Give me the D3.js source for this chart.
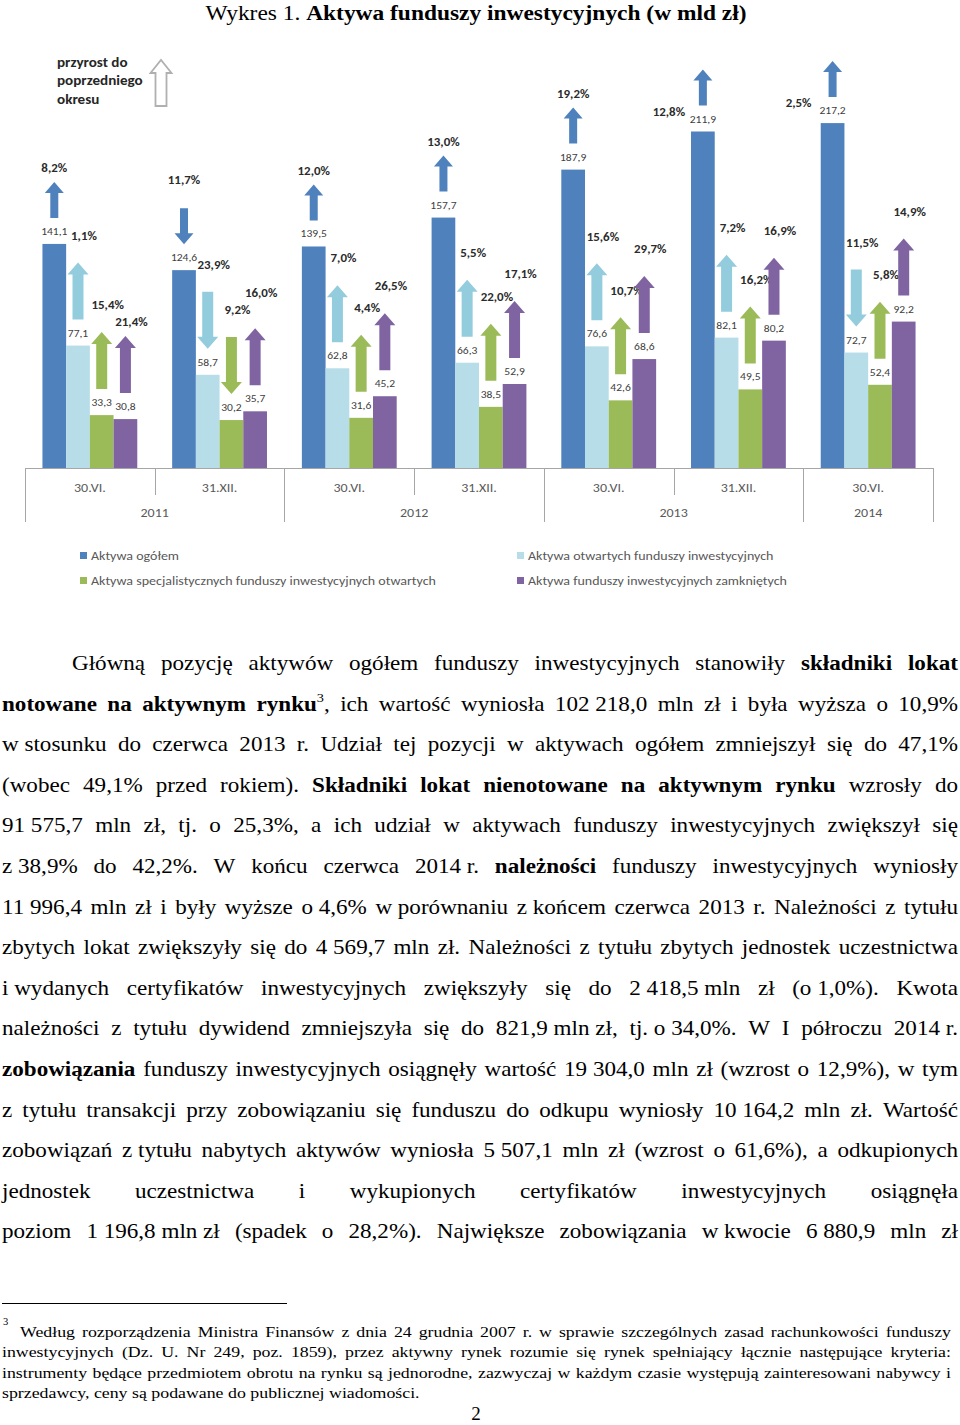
<!DOCTYPE html>
<html><head><meta charset="utf-8">
<script src="https://cdn.jsdelivr.net/npm/d3@7"></script>
<style>body{margin:0;background:#fff}svg{display:block}</style>
</head><body>
<script>
// ---------- DATA ----------
const categories = ["30.VI.","31.XII.","30.VI.","31.XII.","30.VI.","31.XII.","30.VI."];
const years = ["2011","2012","2013","2014"];
const yearSpans = [2,2,2,1];
const seriesNames = ["Aktywa ogółem","Aktywa otwartych funduszy inwestycyjnych","Aktywa specjalistycznych funduszy inwestycyjnych otwartych","Aktywa funduszy inwestycyjnych zamkniętych"];
const aktywaOgolem   = [141.1,124.6,139.5,157.7,187.9,211.9,217.2];
const aktywaOtwarte  = [77.1,58.7,62.8,66.3,76.6,82.1,72.7];
const aktywaSfio     = [33.3,30.2,31.6,38.5,42.6,49.5,52.4];
const aktywaFiz      = [30.8,35.7,45.2,52.9,68.6,80.2,92.2];
const zmianaOgolem   = [8.2,-11.7,12.0,13.0,19.2,12.8,2.5];
const zmianaOtwarte  = [1.1,-23.9,7.0,5.5,15.6,7.2,-11.5];
const zmianaSfio     = [15.4,-9.2,4.4,22.0,10.7,16.2,5.8];
const zmianaFiz      = [21.4,16.0,26.5,17.1,29.7,16.9,14.9];

const seriesValues = [aktywaOgolem, aktywaOtwarte, aktywaSfio, aktywaFiz];
const seriesChanges = [zmianaOgolem, zmianaOtwarte, zmianaSfio, zmianaFiz];
const barColors = ["#4f81bd","#b7dde8","#9bbb59","#8064a2"];
const arrowColors = ["#4f81bd","#93cddd","#9bbb59","#8064a2"];

const titleRegular = "Wykres 1. ";
const titleBold = "Aktywa funduszy inwestycyjnych (w mld zł)";
const keyLines = ["przyrost do","poprzedniego","okresu"];

const bodyLines = [
 "Główną pozycję aktywów ogółem funduszy inwestycyjnych stanowiły **składniki lokat**",
 "**notowane na aktywnym rynku**^3^, ich wartość wyniosła 102~218,0 mln zł i była wyższa o 10,9%",
 "w~stosunku do czerwca 2013 r. Udział tej pozycji w aktywach ogółem zmniejszył się do 47,1%",
 "(wobec 49,1% przed rokiem). **Składniki lokat nienotowane na aktywnym rynku** wzrosły do",
 "91~575,7 mln zł, tj. o 25,3%, a ich udział w aktywach funduszy inwestycyjnych zwiększył się",
 "z~38,9% do 42,2%. W końcu czerwca 2014~r. **należności** funduszy inwestycyjnych wyniosły",
 "11~996,4 mln zł i były wyższe o~4,6% w~porównaniu z~końcem czerwca 2013 r. Należności z tytułu",
 "zbytych lokat zwiększyły się do 4~569,7 mln zł. Należności z tytułu zbytych jednostek uczestnictwa",
 "i~wydanych certyfikatów inwestycyjnych zwiększyły się do 2~418,5~mln zł (o~1,0%). Kwota",
 "należności z tytułu dywidend zmniejszyła się do 821,9~mln~zł, tj.~o~34,0%. W I półroczu 2014~r.",
 "**zobowiązania** funduszy inwestycyjnych osiągnęły wartość 19~304,0 mln zł (wzrost o 12,9%), w tym",
 "z tytułu transakcji przy zobowiązaniu się funduszu do odkupu wyniosły 10~164,2 mln zł. Wartość",
 "zobowiązań z~tytułu nabytych aktywów wyniosła 5~507,1 mln zł (wzrost o 61,6%), a odkupionych",
 "jednostek uczestnictwa i wykupionych certyfikatów inwestycyjnych osiągnęła",
 "poziom 1~196,8~mln~zł (spadek o 28,2%). Największe zobowiązania w~kwocie 6~880,9 mln zł"
];
const footnoteMark = "3";
const footnoteLines = [
 "Według rozporządzenia Ministra Finansów z dnia 24 grudnia 2007 r. w sprawie szczególnych zasad rachunkowości funduszy",
 "inwestycyjnych (Dz. U. Nr 249, poz. 1859), przez aktywny rynek rozumie się rynek spełniający łącznie następujące kryteria:",
 "instrumenty będące przedmiotem obrotu na rynku są jednorodne, zazwyczaj w każdym czasie występują zainteresowani nabywcy i",
 "sprzedawcy, ceny są podawane do publicznej wiadomości."
];
const pageNumber = "2";

// ---------- SETUP ----------
const svg = d3.select("body").append("svg").attr("width",960).attr("height",1425);
const sans = "Carlito, Lato, 'Open Sans', sans-serif";
const serif = "'Liberation Serif', 'Times New Roman', serif";
const fmt = v => v.toFixed(1).replace(".", ",");

// text helper with horizontal stretch
function sText(g, x, yy, str, o){
  const t = g.append("text").attr("transform",`translate(${x},${yy}) scale(${o.sx||1},1)`)
    .attr("font-family",o.family||sans).attr("font-size",o.size||11).attr("fill",o.fill||"#000");
  if(o.anchor) t.attr("text-anchor",o.anchor);
  if(o.weight) t.attr("font-weight",o.weight);
  if(o.dy) t.attr("dy",o.dy);
  if(str!==null) t.text(str);
  return t;
}

// title
const title = sText(svg, 476, 20, null, {family:serif,size:21.5,sx:1.09,anchor:"middle"});
title.append("tspan").text(titleRegular);
title.append("tspan").attr("font-weight","bold").text(titleBold);

// scales
const x0 = d3.scaleBand().domain(d3.range(categories.length)).range([25,933]).paddingInner(0.269).paddingOuter(0.1345);
const x1 = d3.scaleBand().domain(d3.range(seriesValues.length)).range([0,x0.bandwidth()]);
const y = d3.scaleLinear().domain([0,250]).range([468,71]);
const step = x0.step();
const axisStart = x0.range()[0];

const chart = svg.append("g");

// bars
seriesValues.forEach((vals,s)=>{
  chart.append("g").selectAll("rect").data(vals).join("rect")
    .attr("x",(d,i)=>x0(i)+x1(s)).attr("width",x1.bandwidth())
    .attr("y",d=>y(d)).attr("height",d=>y(0)-y(d)).attr("fill",barColors[s]);
});

// value labels
seriesValues.forEach((vals,s)=>{
  vals.forEach((d,i)=>{
    sText(chart, x0(i)+x1(s)+x1.bandwidth()/2, y(d)-9, fmt(d), {size:11,sx:1.05,anchor:"middle",fill:"#404040"});
  });
});

// arrows
function arrowPath(xc, yTop, yBot, up, shaftW, headW, headH){
  const p = d3.path();
  if(up){
    p.moveTo(xc-shaftW/2,yBot); p.lineTo(xc-shaftW/2,yTop+headH); p.lineTo(xc-headW/2,yTop+headH);
    p.lineTo(xc,yTop); p.lineTo(xc+headW/2,yTop+headH); p.lineTo(xc+shaftW/2,yTop+headH);
    p.lineTo(xc+shaftW/2,yBot); p.closePath();
  } else {
    p.moveTo(xc-shaftW/2,yTop); p.lineTo(xc-shaftW/2,yBot-headH); p.lineTo(xc-headW/2,yBot-headH);
    p.lineTo(xc,yBot); p.lineTo(xc+headW/2,yBot-headH); p.lineTo(xc+shaftW/2,yBot-headH);
    p.lineTo(xc+shaftW/2,yTop); p.closePath();
  }
  return p.toString();
}
const gap = 26;
const pctW = 32, pctH = 14;
const labelCeiling = 62; // labels above this go beside the arrow
categories.forEach((cat,i)=>{
  const placed = [];
  seriesChanges.forEach((chg,s)=>{
    const c = chg[i];
    const len = s===0 ? 36 : 57;
    const shaftW = s===0 ? 8 : 11, headW = s===0 ? 19 : 21, headH = s===0 ? 11 : 12;
    const xc = x0(i)+x1(s)+x1.bandwidth()/2;
    const yBot = y(seriesValues[s][i]) - gap;
    const yTop = yBot - len;
    chart.append("path").attr("d",arrowPath(xc,yTop,yBot,c>=0,shaftW,headW,headH)).attr("fill",arrowColors[s]);
    let lx, ly;
    if(s===0){
      lx = xc; ly = c>=0 ? yTop-14 : yTop-28;
      if(ly < labelCeiling){ lx = xc-34; ly = yBot+6; }
    } else {
      lx = xc+6; ly = yTop-27;
      const prev = placed[placed.length-1];
      if(prev && Math.abs(prev.x-lx)<pctW && Math.abs(prev.y-ly)<pctH+2){
        if(ly>prev.y && prev.y+pctH+3 <= yTop-8) ly = prev.y+pctH+3;
        else ly = prev.y-pctH-3;
      }
    }
    placed.push({x:lx,y:ly});
    sText(chart, lx, ly, fmt(Math.abs(c))+"%", {size:12,sx:1.08,anchor:"middle",weight:"bold",fill:"#2b2b2b",dy:"0.35em"});
  });
});

// category axis
const axisColor = "#a6a6a6";
chart.append("line").attr("x1",axisStart).attr("x2",axisStart+step*categories.length)
  .attr("y1",y(0)+0.5).attr("y2",y(0)+0.5).attr("stroke",axisColor);
const yearBounds = [0]; yearSpans.forEach(n=>yearBounds.push(yearBounds[yearBounds.length-1]+n));
d3.range(categories.length+1).forEach(i=>{
  const long = yearBounds.includes(i);
  const xx = Math.round(axisStart+i*step)+0.5;
  chart.append("line").attr("x1",xx).attr("x2",xx).attr("y1",y(0)).attr("y2",y(0)+(long?54:27)).attr("stroke",axisColor);
});
categories.forEach((d,i)=>{
  sText(chart, axisStart+(i+0.5)*step, 492, d, {size:12.5,sx:1.12,anchor:"middle",fill:"#595959"});
});
years.forEach((d,i)=>{
  sText(chart, axisStart+((yearBounds[i]+yearBounds[i+1])/2)*step, 517, d, {size:12.5,sx:1.12,anchor:"middle",fill:"#595959"});
});

// legend
const legendPos = [[80,556],[517,556],[80,581],[517,581]];
seriesNames.forEach((n,s)=>{
  const [lx,ly] = legendPos[s];
  chart.append("rect").attr("x",lx).attr("y",ly-4).attr("width",7).attr("height",7).attr("fill",barColors[s]);
  sText(chart, lx+11, ly, n, {size:12.5,sx:1.12,fill:"#595959",dy:"0.35em"});
});

// "przyrost" key
keyLines.forEach((t,i)=>{
  sText(chart, 57, 62+i*18.5, t, {size:13.5,sx:1.12,weight:"bold",fill:"#262626",dy:"0.35em"});
});
chart.append("path").attr("d",arrowPath(161,60,106,true,11,21,13)).attr("fill","#fff")
  .attr("stroke","#b0b0b0").attr("stroke-width",1.8);

// ---------- TEXT ----------
function parseWords(str){
  let bold=false, sup=false; const words=[]; let cur=[]; let buf='';
  const flush=()=>{ if(buf){cur.push({t:buf.replace(/~/g,"\u00a0"),b:bold,s:sup}); buf='';} };
  for(let i=0;i<str.length;i++){
    const c=str[i];
    if(c==='*'&&str[i+1]==='*'){flush(); bold=!bold; i++; continue;}
    if(c==='^'){flush(); sup=!sup; continue;}
    if(c===' '){flush(); if(cur.length){words.push(cur);cur=[];} continue;}
    buf+=c;
  }
  flush(); if(cur.length) words.push(cur);
  return words;
}
function drawLine(g, str, xa, xb, yb, size, justify, sx0){
  const words = parseWords(str);
  const nodes = words.map(parts=>{
    const t = g.append("text").attr("font-family",serif).attr("font-size",size).attr("fill","#000");
    let wasSup=false;
    parts.forEach(p=>{
      const ts = t.append("tspan").text(p.t);
      if(p.b) ts.attr("font-weight","bold");
      if(p.s){ ts.attr("font-size",size*0.62).attr("dy",-size*0.42); wasSup=true; }
      else if(wasSup){ ts.attr("dy",size*0.42); wasSup=false; }
    });
    return t;
  });
  const widths = nodes.map(n=>n.node().getComputedTextLength());
  const total = d3.sum(widths);
  const minGap = size*0.2;
  let sx = sx0;
  if(nodes.length>1 && total*sx + minGap*(nodes.length-1) > xb-xa) sx = (xb-xa-minGap*(nodes.length-1))/total;
  if(!justify) sx = sx0;
  const space = size*0.25*sx;
  const g2 = justify && nodes.length>1 ? (xb-xa-total*sx)/(nodes.length-1) : space;
  let cx = xa;
  nodes.forEach((n,i)=>{ n.attr("transform",`translate(${cx},${yb}) scale(${sx},1)`); cx += widths[i]*sx+g2; });
}
const body = svg.append("g");
bodyLines.forEach((l,i)=>{
  drawLine(body, l, i===0?72:2, 958, 670+i*40.6, 21, true, 1.1);
});

// footnote
svg.append("line").attr("x1",2).attr("x2",287).attr("y1",1303.5).attr("y2",1303.5).attr("stroke","#000").attr("stroke-width",1);
sText(svg, 3, 1325, footnoteMark, {family:serif,size:10.5});
footnoteLines.forEach((l,i)=>{
  drawLine(svg, l, i===0?20:2, 951, 1337+i*20.3, 15.5, i<footnoteLines.length-1, 1.15);
});
sText(svg, 476, 1420, pageNumber, {family:serif,size:19,anchor:"middle"});
</script>
</body></html>
